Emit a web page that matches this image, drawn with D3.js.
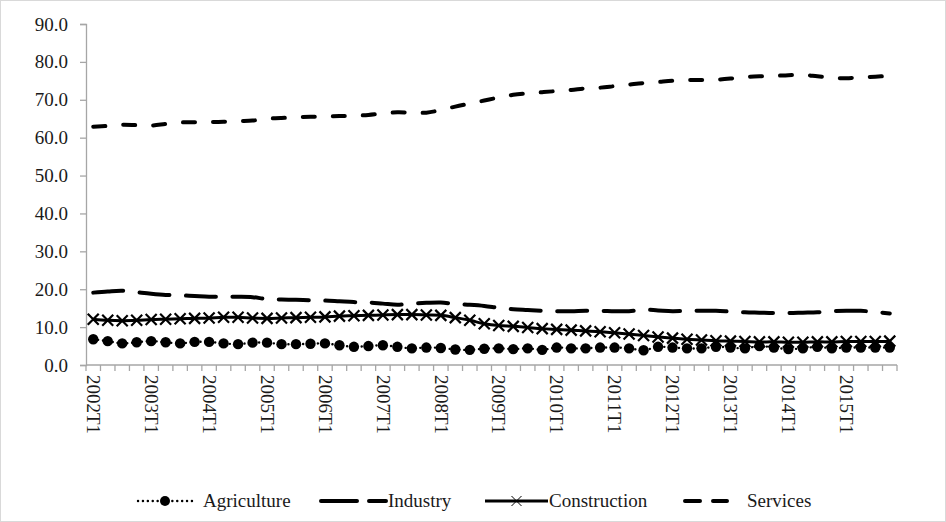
<!DOCTYPE html>
<html>
<head>
<meta charset="utf-8">
<script src="https://cdn.jsdelivr.net/npm/d3@7"></script>
<style>
  body { margin: 0; background: #fff; }
  svg text { font-family: "Liberation Serif", "Times New Roman", serif; fill: #1a1a1a; }
</style>
</head>
<body>
<div id="chart"></div>
<script>
var width = 946;
var height = 522;

// categories: quarterly, 2002T1 .. 2015T4
var years = [2002, 2003, 2004, 2005, 2006, 2007, 2008, 2009, 2010, 2011, 2012, 2013, 2014, 2015];
var quarters = ["T1", "T2", "T3", "T4"];
var yTicks = [0, 10, 20, 30, 40, 50, 60, 70, 80, 90];

var agriculture = [6.8, 6.3, 5.7, 6.0, 6.3, 6.0, 5.7, 6.1, 6.1, 5.7, 5.5, 5.9, 5.9, 5.5,
  5.5, 5.6, 5.7, 5.2, 4.8, 5.0, 5.2, 4.8, 4.4, 4.6, 4.5, 4.1, 4.0, 4.3,
  4.4, 4.2, 4.4, 4.0, 4.6, 4.4, 4.4, 4.6, 4.6, 4.4, 3.9, 4.8, 4.6, 4.4,
  4.4, 4.8, 4.6, 4.4, 5.0, 4.6, 4.2, 4.4, 4.8, 4.4, 4.6, 4.6, 4.6, 4.6];
var industry = [19.1, 19.4, 19.6, 19.2, 18.8, 18.5, 18.4, 18.2, 18.0, 18.0, 18.0, 17.9, 17.4, 17.3,
  17.2, 17.1, 17.0, 16.8, 16.6, 16.5, 16.2, 15.9, 16.2, 16.4, 16.5, 16.1, 15.9, 15.6,
  15.1, 14.7, 14.5, 14.3, 14.2, 14.2, 14.3, 14.3, 14.2, 14.2, 14.6, 14.4, 14.2, 14.3,
  14.3, 14.3, 14.1, 13.9, 13.8, 13.7, 13.7, 13.8, 13.9, 14.2, 14.3, 14.3, 14.0, 13.6];
var construction = [12.1, 11.8, 11.7, 11.8, 12.0, 12.1, 12.2, 12.3, 12.4, 12.6, 12.6, 12.4, 12.3, 12.4,
  12.5, 12.6, 12.7, 12.9, 13.0, 13.1, 13.2, 13.3, 13.3, 13.2, 13.1, 12.5, 11.8, 10.9,
  10.4, 10.2, 9.9, 9.6, 9.4, 9.2, 9.0, 8.8, 8.5, 8.2, 7.8, 7.4, 7.1, 6.8,
  6.6, 6.4, 6.3, 6.2, 6.1, 6.1, 6.0, 6.0, 6.1, 6.1, 6.2, 6.2, 6.2, 6.3];
var services = [62.9, 63.1, 63.4, 63.3, 63.2, 63.6, 64.0, 64.1, 64.1, 64.2, 64.4, 64.5, 65.0, 65.2,
  65.4, 65.5, 65.6, 65.7, 65.8, 66.0, 66.4, 66.7, 66.6, 66.6, 67.3, 68.2, 69.0, 69.8,
  70.6, 71.3, 71.7, 72.0, 72.3, 72.6, 73.0, 73.2, 73.6, 74.0, 74.4, 74.7, 75.0, 75.2,
  75.2, 75.3, 75.6, 76.0, 76.2, 76.3, 76.5, 76.6, 76.2, 75.8, 75.7, 75.9, 76.1, 76.3];

var seriesNames = ["Agriculture", "Industry", "Construction", "Services"];
var seriesValues = [agriculture, industry, construction, services];

var categories = [];
years.forEach(function(y) {
  quarters.forEach(function(q) { categories.push(y + q); });
});

// line looks
var looks = {
  Agriculture: { width: 2.4, dash: "0.1,4.8", cap: "round", marker: "dot" },
  Industry: { width: 4, dash: "30,16.5", cap: "round", marker: null },
  Construction: { width: 3, dash: null, cap: "butt", marker: "cross" },
  Services: { width: 4, dash: "12,18", cap: "round", marker: null }
};
var fontSize = 19;

var svg = d3.select("#chart").append("svg")
  .attr("width", width)
  .attr("height", height)
  .attr("font-family", "Liberation Serif");

svg.append("rect")
  .attr("x", 0.5).attr("y", 0.5)
  .attr("width", width - 1).attr("height", height - 1)
  .attr("fill", "none").attr("stroke", "#d9d9d9");

var plotLeft = 86, plotRight = 897, plotTop = 24, plotBottom = 365;

var x = d3.scaleBand().domain(categories).range([plotLeft, plotRight]).padding(0);
var y = d3.scaleLinear().domain([0, 90]).range([plotBottom, plotTop]);

// y axis
var yAxis = svg.append("g")
  .attr("transform", "translate(" + plotLeft + ",0)")
  .call(d3.axisLeft(y).tickValues(yTicks).tickFormat(d3.format(".1f")).tickSize(6).tickPadding(12));
yAxis.attr("font-family", "Liberation Serif").attr("font-size", fontSize);
yAxis.select(".domain").attr("stroke", "#a6a6a6").attr("stroke-width", 1.3);
yAxis.selectAll(".tick line").attr("stroke", "#a6a6a6").attr("stroke-width", 1.3);
yAxis.selectAll(".tick text").attr("fill", "#1a1a1a");

// x axis: ticks at band boundaries, labels on first quarter
var xg = svg.append("g").attr("transform", "translate(0," + plotBottom + ")");
xg.append("line")
  .attr("x1", plotLeft).attr("x2", plotRight)
  .attr("stroke", "#a6a6a6").attr("stroke-width", 1.3);
var bounds = categories.map(function(c) { return x(c); }).concat([plotRight]);
xg.selectAll("line.tk").data(bounds).enter().append("line")
  .attr("class", "tk")
  .attr("x1", function(d) { return d; }).attr("x2", function(d) { return d; })
  .attr("y1", 0).attr("y2", 6)
  .attr("stroke", "#a6a6a6").attr("stroke-width", 1.3);
xg.selectAll("text").data(categories.filter(function(c) { return /T1$/.test(c); }))
  .enter().append("text")
  .attr("transform", function(d) {
    return "translate(" + (x(d) + x.bandwidth() / 2) + ",10) rotate(90)";
  })
  .attr("dy", "0.33em")
  .attr("font-size", fontSize)
  .text(function(d) { return d; });

var line = d3.line()
  .x(function(d, i) { return x(categories[i]) + x.bandwidth() / 2; })
  .y(function(d) { return y(d); })
  .curve(d3.curveCatmullRom);

function crossPath(s) {
  return "M" + (-s) + "," + (-s) + "L" + s + "," + s + "M" + (-s) + "," + s + "L" + s + "," + (-s);
}

seriesNames.forEach(function(name, k) {
  var vals = seriesValues[k];
  var lk = looks[name];
  svg.append("path")
    .datum(vals)
    .attr("d", line)
    .attr("fill", "none")
    .attr("stroke", "#000")
    .attr("stroke-width", lk.width)
    .attr("stroke-linecap", lk.cap)
    .attr("stroke-dasharray", lk.dash);
  if (lk.marker === "dot") {
    svg.append("g").selectAll("circle").data(vals).enter().append("circle")
      .attr("cx", function(d, i) { return x(categories[i]) + x.bandwidth() / 2; })
      .attr("cy", function(d) { return y(d); })
      .attr("r", 5.2)
      .attr("fill", "#000");
  } else if (lk.marker === "cross") {
    svg.append("g").selectAll("path").data(vals).enter().append("path")
      .attr("transform", function(d, i) {
        return "translate(" + (x(categories[i]) + x.bandwidth() / 2) + "," + y(d) + ")";
      })
      .attr("d", crossPath(5.5))
      .attr("stroke", "#000")
      .attr("stroke-width", 2.2)
      .attr("fill", "none");
  }
});

// legend
var legendY = 501;
var legendPos = [
  { x1: 138, x2: 192, tx: 203 },
  { x1: 321, x2: 386, tx: 388 },
  { x1: 485, x2: 548, tx: 549 },
  { x1: 685, x2: 727, tx: 747 }
];
var legendDash = { Agriculture: "0.1,4.8", Industry: "36,12", Construction: null, Services: "15,13" };

seriesNames.forEach(function(name, k) {
  var p = legendPos[k];
  var lk = looks[name];
  var g = svg.append("g");
  g.append("line")
    .attr("x1", p.x1).attr("x2", p.x2)
    .attr("y1", legendY).attr("y2", legendY)
    .attr("stroke", "#000")
    .attr("stroke-width", lk.width)
    .attr("stroke-linecap", lk.cap)
    .attr("stroke-dasharray", legendDash[name]);
  var mx = (p.x1 + p.x2) / 2;
  if (lk.marker === "dot") {
    g.append("circle").attr("cx", mx).attr("cy", legendY).attr("r", 5).attr("fill", "#000");
  } else if (lk.marker === "cross") {
    g.append("path")
      .attr("transform", "translate(" + mx + "," + legendY + ")")
      .attr("d", crossPath(5))
      .attr("stroke", "#000").attr("stroke-width", 1).attr("fill", "none");
  }
  g.append("text")
    .attr("x", p.tx).attr("y", legendY)
    .attr("dy", "0.33em")
    .attr("font-size", fontSize)
    .text(name);
});
</script>
</body>
</html>
